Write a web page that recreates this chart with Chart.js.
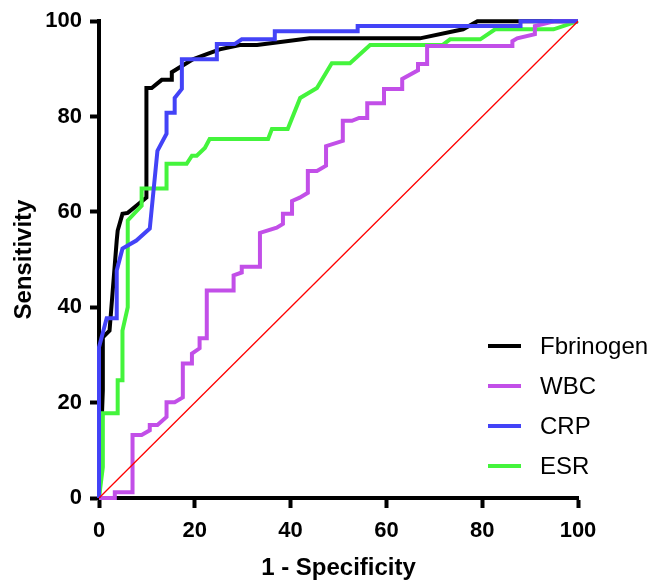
<!DOCTYPE html>
<html>
<head>
<meta charset="utf-8">
<script src="https://cdn.jsdelivr.net/npm/chart.js@4"></script>
<style>
  html, body { margin: 0; padding: 0; background: #fff; }
</style>
</head>
<body>
<canvas id="roc" width="652" height="583"></canvas>
<script>
// ROC curves, x = 1 - specificity (%), y = sensitivity (%)
const labels = ["Fbrinogen", "WBC", "CRP", "ESR"];
const tickValues = [0, 20, 40, 60, 80, 100];

const fibX = [0, 0.8, 0.8, 2.2, 3.7, 3.9, 4.9, 6.0, 9.9, 9.9, 11.0, 13.1, 15.2, 15.2, 17.3, 19.6, 22.5, 25.2, 29.4, 33.0, 44.0, 67.0, 76.0, 79.0, 100];
const fibY = [0, 22.6, 33.7, 35.1, 54.0, 56.1, 59.6, 59.8, 63.0, 86.0, 86.0, 87.7, 87.7, 89.3, 90.6, 92.0, 93.1, 94.1, 95.0, 95.0, 96.4, 96.4, 98.3, 100, 100];

const wbcX = [0, 3.3, 3.3, 7.0, 7.0, 8.9, 10.6, 10.6, 12.2, 14.1, 14.1, 15.8, 17.5, 17.5, 19.4, 19.4, 21.0, 21.0, 22.5, 22.5, 28.1, 28.1, 29.8, 29.8, 33.6, 33.6, 37.1, 38.4, 38.4, 40.3, 40.3, 41.9, 43.6, 43.6, 45.5, 47.4, 47.4, 50.9, 50.9, 52.8, 54.3, 56.0, 56.0, 59.5, 59.5, 63.3, 63.3, 66.6, 66.6, 68.5, 68.5, 86.3, 86.3, 87.3, 91.0, 91.0, 95.0, 100];
const wbcY = [0, 0, 1.2, 1.2, 13.2, 13.2, 14.2, 15.3, 15.3, 17.0, 20.1, 20.1, 21.1, 28.2, 28.2, 30.3, 31.4, 33.5, 33.5, 43.5, 43.5, 46.7, 47.3, 48.5, 48.5, 55.6, 56.7, 57.5, 59.6, 59.6, 62.3, 63.0, 64.0, 68.6, 68.6, 69.7, 73.8, 74.9, 79.1, 79.1, 79.7, 79.7, 82.8, 82.8, 85.8, 85.8, 87.9, 89.7, 91.0, 91.0, 94.8, 94.8, 95.8, 96.4, 97.3, 99.0, 100, 100];

const crpX = [0, 0, 1.6, 3.7, 3.7, 4.9, 7.8, 10.6, 12.2, 14.1, 14.1, 15.8, 15.8, 17.3, 17.3, 24.6, 24.6, 28.3, 29.8, 36.7, 36.7, 54.0, 54.0, 88.0, 88.0, 100];
const crpY = [0, 31.6, 37.7, 37.7, 47.7, 52.3, 54.0, 56.5, 72.8, 76.4, 80.8, 80.8, 83.9, 85.8, 92.0, 92.0, 95.2, 95.2, 96.2, 96.2, 97.9, 97.9, 99.0, 99.0, 100, 100];

const esrX = [0, 0.8, 0.8, 3.9, 3.9, 4.9, 4.9, 6.0, 6.0, 8.9, 8.9, 14.1, 14.1, 18.3, 19.4, 20.4, 22.1, 23.1, 35.3, 36.1, 39.4, 42.0, 45.5, 48.6, 52.4, 56.6, 71.7, 73.3, 79.6, 82.7, 94.9, 100];
const esrY = [0, 6.5, 17.8, 17.8, 24.7, 24.7, 35.1, 40.0, 58.2, 61.3, 64.9, 64.9, 70.1, 70.1, 71.8, 71.8, 73.4, 75.3, 75.3, 77.4, 77.4, 83.9, 86.0, 91.2, 91.2, 95.0, 95.0, 96.2, 96.2, 98.3, 98.3, 100];

const refX = [0, 100];
const refY = [0, 100];

const colors = ["#000000", "#c24fe8", "#4343f7", "#44f43c"];

function pts(xs, ys) {
  return xs.map((x, i) => ({ x: x, y: ys[i] }));
}

const font = "'Liberation Sans', Arial, Helvetica, sans-serif";

// legend drawn by hand, bottom right, partly outside the plot area
const rocLegend = {
  id: "rocLegend",
  afterDraw(chart) {
    const ctx = chart.ctx;
    ctx.save();
    ctx.font = "24px " + font;
    ctx.textBaseline = "middle";
    ctx.textAlign = "left";
    chart.data.datasets.forEach((ds) => {
      if (!ds.showInLegend) return;
      const y = 346 + ds.legendRow * 40;
      ctx.strokeStyle = ds.borderColor;
      ctx.lineWidth = 4;
      ctx.beginPath();
      ctx.moveTo(488, y);
      ctx.lineTo(521, y);
      ctx.stroke();
      ctx.fillStyle = "#000";
      ctx.fillText(ds.label, 540, y + 1);
    });
    ctx.restore();
  }
};

const lineStyle = {
  borderWidth: 4,
  pointRadius: 0,
  tension: 0,
  fill: false,
  clip: false,
  borderJoinStyle: "miter",
  showInLegend: true
};

new Chart(document.getElementById("roc"), {
  type: "line",
  data: {
    datasets: [
      Object.assign({ label: labels[0], data: pts(fibX, fibY), borderColor: colors[0], legendRow: 0, order: 4 }, lineStyle),
      Object.assign({ label: labels[1], data: pts(wbcX, wbcY), borderColor: colors[1], legendRow: 1, order: 2 }, lineStyle),
      Object.assign({ label: labels[2], data: pts(crpX, crpY), borderColor: colors[2], legendRow: 2, order: 1 }, lineStyle),
      Object.assign({ label: labels[3], data: pts(esrX, esrY), borderColor: colors[3], legendRow: 3, order: 3 }, lineStyle),
      { label: "ref", data: pts(refX, refY), borderColor: "#ff0000", borderWidth: 1.3, pointRadius: 0, clip: false, order: 0, showInLegend: false }
    ]
  },
  options: {
    responsive: false,
    animation: false,
    devicePixelRatio: 1,
    layout: { padding: { top: 20, right: 74, left: 0, bottom: 0 } },
    plugins: {
      legend: { display: false },
      tooltip: { enabled: false }
    },
    scales: {
      x: {
        type: "linear",
        min: 0,
        max: 100,
        afterFit(scale) { scale.height = 85; },
        afterBuildTicks(scale) { scale.ticks = tickValues.map(v => ({ value: v })); },
        border: { display: true, color: "#000", width: 4 },
        grid: { drawOnChartArea: false, drawTicks: true, tickLength: 10, tickWidth: 4, tickColor: "#000" },
        ticks: { color: "#000", padding: 10, maxRotation: 0, font: { family: font, size: 22, weight: "bold" } },
        title: { display: true, text: "1 - Specificity", color: "#000", padding: { top: 0, bottom: 0 }, font: { family: font, size: 24, weight: "bold" } }
      },
      y: {
        type: "linear",
        min: 0,
        max: 100,
        afterFit(scale) { scale.width = 99; },
        afterBuildTicks(scale) { scale.ticks = tickValues.map(v => ({ value: v })); },
        border: { display: true, color: "#000", width: 4 },
        grid: { drawOnChartArea: false, drawTicks: true, tickLength: 9, tickWidth: 4, tickColor: "#000" },
        ticks: { color: "#000", padding: 8, font: { family: font, size: 22, weight: "bold" } },
        title: { display: true, text: "Sensitivity", color: "#000", padding: { top: 10, bottom: 0 }, font: { family: font, size: 24, weight: "bold" } }
      }
    }
  },
  plugins: [rocLegend]
});
</script>
</body>
</html>
